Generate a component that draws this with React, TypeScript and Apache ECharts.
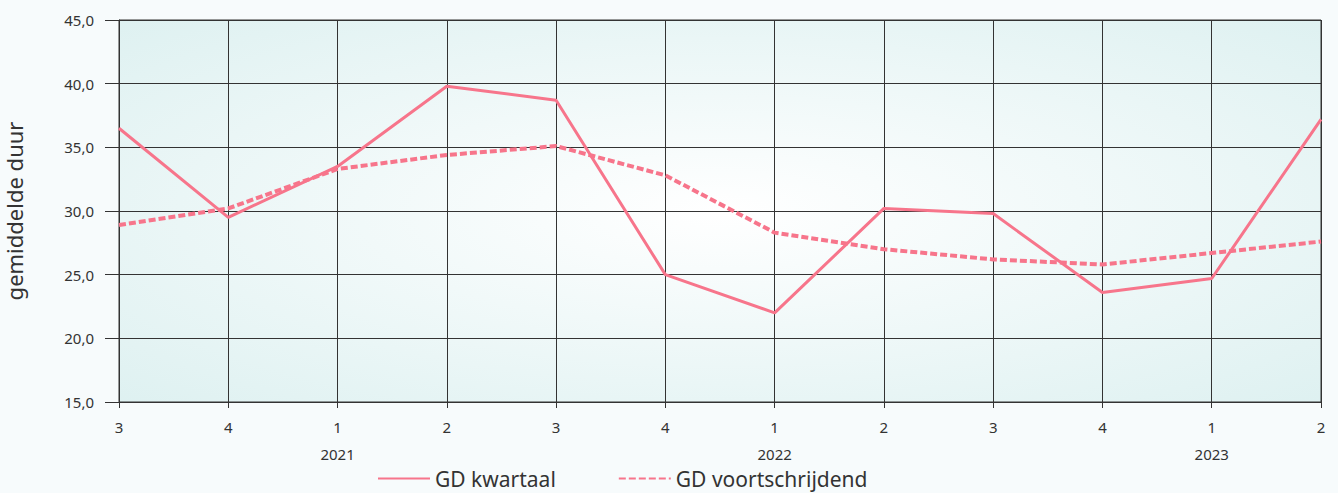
import React, { useEffect, useRef } from "react";
import * as echarts from "echarts";

const quarters = ["3", "4", "1", "2", "3", "4", "1", "2", "3", "4", "1", "2"];
const years = ["", "", "2021", "", "", "", "2022", "", "", "", "2023", ""];
const gdKwartaal = [36.5, 29.5, 33.5, 39.8, 38.7, 25.0, 22.0, 30.2, 29.8, 23.6, 24.7, 37.2];
const gdVoortschrijdend = [28.9, 30.2, 33.3, 34.4, 35.1, 32.8, 28.3, 27.0, 26.2, 25.8, 26.7, 27.6];
const yTicks = { min: 15, max: 45, interval: 5 };

const PINK = "#f7758b";
const FONT = "Noto Sans";

export default function App() {
  const ref = useRef<HTMLDivElement>(null);
  useEffect(() => {
    document.body.style.margin = "0";
    const chart = echarts.init(ref.current!, null, { renderer: "svg" });
    const categories = quarters.map((q, i) => (years[i] ? q + "\n" + years[i] : q));
    chart.setOption({
      animation: false,
      backgroundColor: "#f7fbfc",
      textStyle: { fontFamily: FONT, color: "#333" },
      grid: {
        left: 119,
        right: 17,
        top: 20,
        bottom: 91,
        containLabel: false,
        outerBoundsMode: "none",
        show: true,
        borderColor: "#333",
        borderWidth: 1,
        backgroundColor: {
          type: "radial",
          x: 0.5,
          y: 0.5,
          r: 0.75,
          colorStops: [
            { offset: 0, color: "#ffffff" },
            { offset: 1, color: "#dcf0f0" },
          ],
        },
      },
      legend: {
        left: 372,
        top: 463,
        itemWidth: 52,
        itemHeight: 14,
        itemGap: 62,
        itemStyle: { opacity: 0 },
        textStyle: { fontFamily: FONT, fontSize: 21, color: "#333" },
        data: ["GD kwartaal", "GD voortschrijdend"],
      },
      xAxis: {
        type: "category",
        boundaryGap: false,
        data: categories,
        axisLine: { show: true, lineStyle: { color: "#333", width: 1 } },
        axisTick: { show: true, length: 6, lineStyle: { color: "#333" } },
        splitLine: { show: true, lineStyle: { color: "#333", width: 1 } },
        axisLabel: {
          fontFamily: FONT,
          fontSize: 15,
          color: "#333",
          lineHeight: 27,
          margin: 11,
        },
      },
      yAxis: {
        type: "value",
        min: yTicks.min,
        max: yTicks.max,
        interval: yTicks.interval,
        name: "gemiddelde duur",
        nameLocation: "middle",
        nameRotate: 90,
        nameGap: 94,
        nameTextStyle: { fontFamily: FONT, fontSize: 22, color: "#333" },
        axisLine: { show: true, lineStyle: { color: "#333", width: 1 } },
        axisTick: { show: true, length: 14, lineStyle: { color: "#333" } },
        splitLine: { show: true, lineStyle: { color: "#333", width: 1 } },
        axisLabel: {
          fontFamily: FONT,
          fontSize: 15,
          color: "#333",
          margin: 25,
          formatter: (v: number) => v.toFixed(1).replace(".", ","),
        },
      },
      series: [
        {
          name: "GD kwartaal",
          type: "line",
          data: gdKwartaal,
          symbol: "none",
          color: PINK,
          lineStyle: { color: PINK, width: 3 },
        },
        {
          name: "GD voortschrijdend",
          type: "line",
          data: gdVoortschrijdend,
          symbol: "none",
          color: PINK,
          lineStyle: { color: PINK, width: 4, type: [7, 3] },
        },
      ],
    });
    return () => chart.dispose();
  }, []);
  return <div ref={ref} style={{ width: 1338, height: 493 }} />;
}
